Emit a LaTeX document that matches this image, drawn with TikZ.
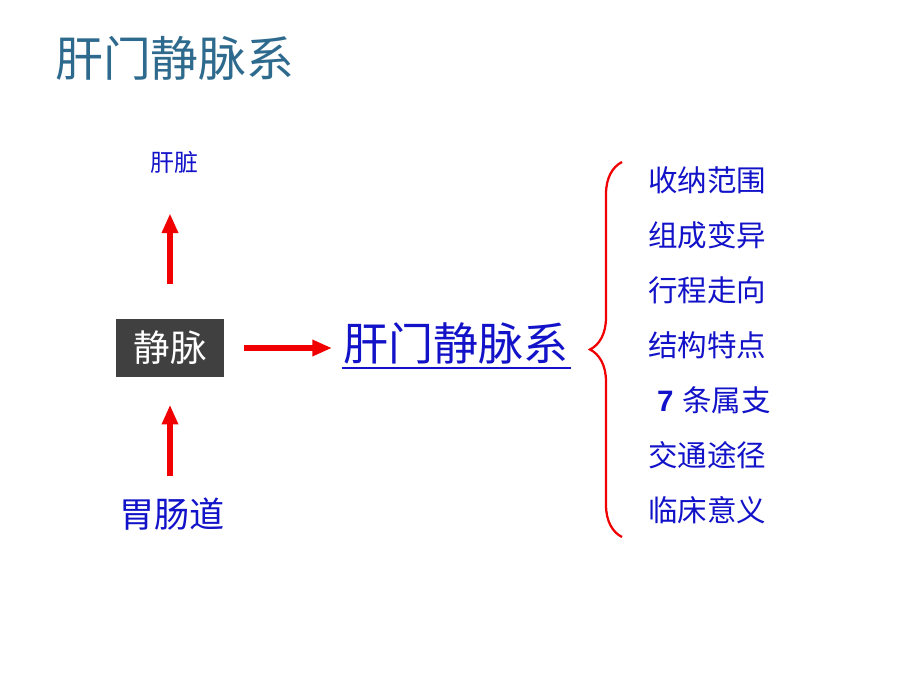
\documentclass[tikz,border=0pt]{standalone}
\usepackage{fontspec}
\newfontfamily\cjk{Noto Sans CJK SC}
\newfontfamily\numfont{Liberation Sans}
\usetikzlibrary{arrows.meta,decorations.pathreplacing}

\definecolor{titleblue}{HTML}{2E6A8E}
\definecolor{textblue}{HTML}{1212C8}
\definecolor{veingray}{HTML}{404040}
\definecolor{arrowred}{HTML}{F00000}

\tikzset{
  redarrow/.style={draw=arrowred, line width=3.6pt, -{Triangle[width=11pt,length=14pt]}},
  item/.style={text=textblue, font=\cjk\fontsize{21}{21}\selectfont, anchor=west, inner sep=0pt},
  label/.style={text=textblue, inner sep=0pt},
}

\begin{document}
\begin{tikzpicture}[x=0.025cm,y=-0.025cm]
\useasboundingbox (0,0) rectangle (920,690);

% title
\node[anchor=west, text=titleblue, font=\cjk\fontsize{34}{34}\selectfont, inner sep=0pt] (title) at (55,58) {肝门静脉系};

% left column
\node[label, font=\cjk\fontsize{17}{17}\selectfont] (liver) at (174,162) {肝脏};
\node[fill=veingray, text=white, font=\cjk\fontsize{26}{26}\selectfont, minimum width=2.7cm, minimum height=1.425cm, inner sep=0pt] (vein) at (170,348) {静脉};
\node[label, font=\cjk\fontsize{25}{25}\selectfont] (gut) at (172,514) {胃肠道};

% main term
\node[label, anchor=west, font=\cjk\fontsize{32}{32}\selectfont] (system) at (343,343) {肝门静脉系};
\draw[textblue, line width=1.2pt] ([xshift=-1pt,yshift=-3pt]system.south west) -- ([xshift=2pt,yshift=-3pt]system.south east);

\path[redarrow, shorten <=0.875cm, shorten >=1.0cm] (vein.north) -- (vein.north |- liver.south);
\path[redarrow, shorten <=0.53cm, shorten >=0.7cm] (vein.south |- gut.north) -- (vein.south);
\path[redarrow, shorten <=0.5cm, shorten >=0.275cm] (vein.east) -- (system.west |- vein.east);

% list
\foreach \t [count=\i] in {收纳范围,组成变异,行程走向,结构特点,{\hspace{0.3em}{\numfont\bfseries 7}\hspace{0.3em}条属支},交通途径,临床意义}
  \node[item] (i\i) at (648,125+55*\i) {\t};

\draw[arrowred, line width=1.6pt, decorate, decoration={brace, amplitude=0.8cm}] (622,537) -- (622,162);
\end{tikzpicture}
\end{document}
